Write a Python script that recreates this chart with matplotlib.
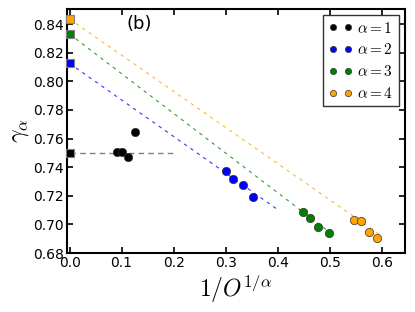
import numpy as np
import matplotlib
matplotlib.use("Agg")
import matplotlib.pyplot as plt

plt.rcParams['mathtext.fontset'] = 'cm'
plt.rcParams['xtick.direction'] = 'in'
plt.rcParams['ytick.direction'] = 'in'

# measured points per alpha
x1 = [0.092, 0.101, 0.112, 0.126]
y1 = [0.7505, 0.7505, 0.7468, 0.7643]
x2 = [0.300, 0.315, 0.333, 0.353]
y2 = [0.7372, 0.7318, 0.7274, 0.7195]
x3 = [0.448, 0.462, 0.478, 0.498]
y3 = [0.7090, 0.7046, 0.6983, 0.6940]
x4 = [0.547, 0.560, 0.575, 0.592]
y4 = [0.7031, 0.7022, 0.6945, 0.6908]

# extrapolated values at 1/O^(1/alpha) = 0
y0 = [0.750, 0.8125, 0.8330, 0.8435]

# fit lines (endpoints)
fit_x = [[0.0, 0.2], [0.0, 0.4], [0.0, 0.5], [0.0, 0.6]]
fit_y = [[0.750, 0.750], [0.8125, 0.7104], [0.8330, 0.6945], [0.8435, 0.6920]]

colors = ['black', 'blue', 'green', 'orange']
labels = [r'$\alpha=1$', r'$\alpha=2$', r'$\alpha=3$', r'$\alpha=4$']
xs = [x1, x2, x3, x4]
ys = [y1, y2, y3, y4]

fig = plt.figure(figsize=(4.15, 3.12), dpi=100)
ax = fig.add_axes([0.1614, 0.189, 0.8146, 0.782])

for i in range(4):
    if i == 0:
        ax.plot(fit_x[i], fit_y[i], color='gray', ls='--', lw=1.0, dashes=(4, 3))
    else:
        ax.plot(fit_x[i], fit_y[i], color=colors[i], ls='--', lw=0.8,
                dashes=(3, 4), alpha=0.8)
    ax.plot(xs[i], ys[i], 'o', color=colors[i], ms=6, mec='#333333', mew=0.5,
            label=labels[i])
    ax.plot([0.0], [y0[i]], 's', color=colors[i], ms=6, mec='gray', mew=0.8,
            clip_on=False, zorder=5)

ax.set_xlim(-0.005, 0.645)
ax.set_ylim(0.68, 0.8505)
ax.set_xticks([0.0, 0.1, 0.2, 0.3, 0.4, 0.5, 0.6])
ax.set_yticks([0.68, 0.70, 0.72, 0.74, 0.76, 0.78, 0.80, 0.82, 0.84])
ax.set_yticklabels(['0.68', '0.70', '0.72', '0.74', '0.76', '0.78', '0.80', '0.82', '0.84'])
ax.tick_params(top=True, right=True, labelsize=10, width=1.2, length=4, pad=2)
for s in ax.spines.values():
    s.set_linewidth(1.5)

ax.set_xlabel(r'$1/O^{1/\alpha}$', fontsize=17, labelpad=2)
ax.set_ylabel(r'$\gamma_\alpha$', fontsize=17, labelpad=2)
ax.text(0.215, 0.94, '(b)', transform=ax.transAxes, fontsize=13,
        ha='center', va='center')

leg = ax.legend(loc='upper right', numpoints=2, fontsize=11, fancybox=False,
                framealpha=1, edgecolor='#333333', handletextpad=0.3,
                borderpad=0.35, labelspacing=0.45, handlelength=1.6,
                borderaxespad=0.4, markerscale=0.75)
leg.get_frame().set_linewidth(1.0)

fig.savefig('out.png', dpi=100)
